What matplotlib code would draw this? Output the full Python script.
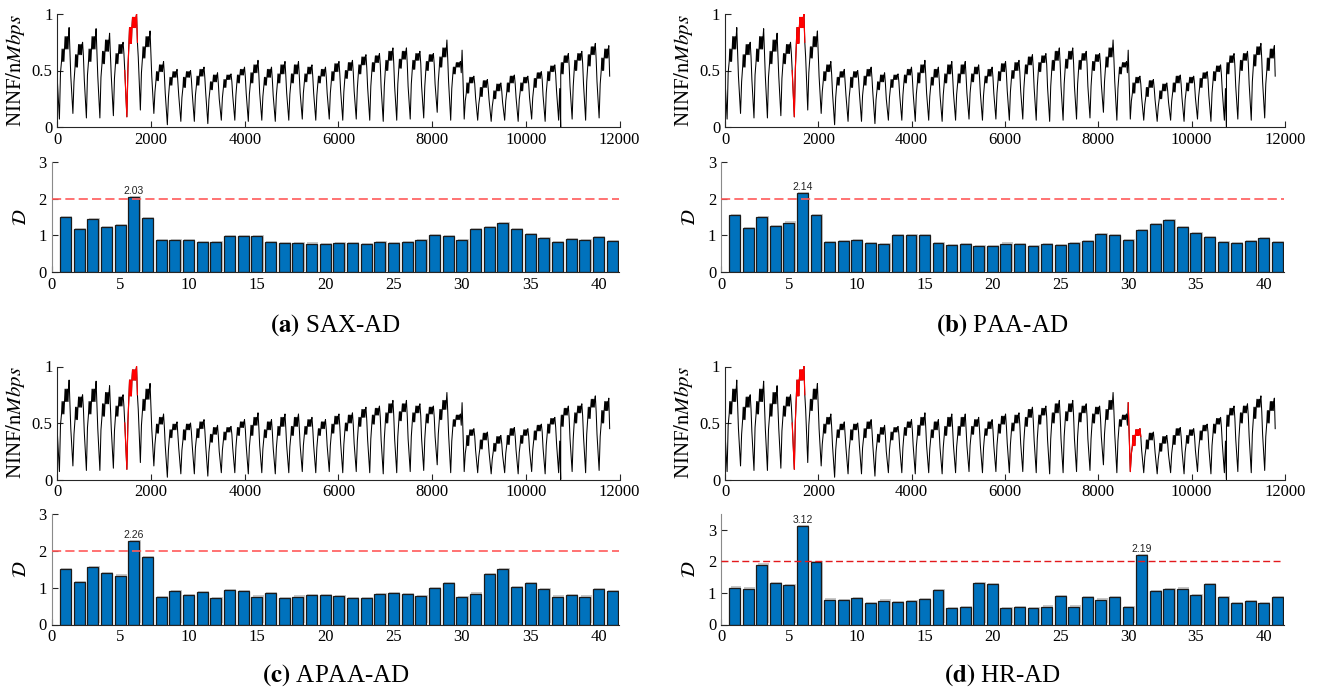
# -------------------- IMPORT LIBRARIES --------------------
import numpy as np
import matplotlib
matplotlib.use("Agg")
import matplotlib.pyplot as plt
from matplotlib import patheffects

plt.rcParams['font.family'] = ['Liberation Serif', 'DejaVu Serif']
plt.rcParams['mathtext.fontset'] = 'stix'

# -------------------- DATA --------------------
# traffic series, read per day (41 days, 288 samples per day)
samples_per_day = 288

day_start = [0.42, 0.45, 0.42, 0.45, 0.45, 0.50, 0.62, 0.45, 0.30, 0.28, 0.30,
             0.30, 0.25, 0.28, 0.30, 0.30, 0.28, 0.30, 0.30, 0.30, 0.30, 0.32,
             0.32, 0.35, 0.35, 0.36, 0.36, 0.36, 0.38, 0.40, 0.68, 0.26, 0.24,
             0.22, 0.26, 0.26, 0.28, 0.32, 0.36, 0.38, 0.40]
day_trough = [0.07, 0.12, 0.08, 0.08, 0.10, 0.09, 0.15, 0.12, 0.02, 0.05, 0.05,
              0.03, 0.06, 0.06, 0.05, 0.06, 0.05, 0.06, 0.07, 0.06, 0.07, 0.06,
              0.07, 0.06, 0.05, 0.06, 0.07, 0.08, 0.13, 0.06, 0.07, 0.06, 0.05,
              0.06, 0.05, 0.07, 0.05, 0.06, 0.07, 0.06, 0.08]
day_rise = [0.48, 0.40, 0.46, 0.44, 0.43, 0.52, 0.48, 0.31, 0.26, 0.26, 0.28,
            0.24, 0.26, 0.28, 0.29, 0.27, 0.28, 0.29, 0.30, 0.28, 0.30, 0.31,
            0.34, 0.36, 0.36, 0.38, 0.38, 0.36, 0.40, 0.34, 0.23, 0.20, 0.18,
            0.23, 0.24, 0.26, 0.30, 0.34, 0.36, 0.40, 0.38]
# daytime band: morning lower edge, middle edge, evening upper edge
band_low = [0.58, 0.53, 0.58, 0.56, 0.56, 0.74, 0.61, 0.41, 0.37, 0.35, 0.37,
            0.33, 0.35, 0.39, 0.39, 0.37, 0.39, 0.39, 0.40, 0.39, 0.41, 0.43,
            0.47, 0.49, 0.50, 0.52, 0.51, 0.50, 0.53, 0.47, 0.30, 0.27, 0.25,
            0.31, 0.32, 0.35, 0.41, 0.47, 0.50, 0.54, 0.50]
band_mid = [0.69, 0.64, 0.69, 0.67, 0.65, 0.88, 0.71, 0.49, 0.44, 0.44, 0.45,
            0.40, 0.42, 0.46, 0.48, 0.44, 0.47, 0.47, 0.47, 0.45, 0.49, 0.50,
            0.55, 0.57, 0.59, 0.60, 0.59, 0.58, 0.62, 0.53, 0.39, 0.35, 0.32,
            0.39, 0.39, 0.43, 0.49, 0.57, 0.59, 0.64, 0.61]
band_top = [0.80, 0.73, 0.80, 0.77, 0.73, 0.97, 0.80, 0.55, 0.49, 0.49, 0.51,
            0.46, 0.46, 0.51, 0.55, 0.51, 0.55, 0.55, 0.53, 0.51, 0.56, 0.57,
            0.62, 0.63, 0.67, 0.67, 0.65, 0.64, 0.70, 0.57, 0.44, 0.41, 0.38,
            0.45, 0.44, 0.48, 0.54, 0.63, 0.65, 0.71, 0.69]
day_peak = [0.88, 0.75, 0.87, 0.83, 0.75, 1.00, 0.85, 0.58, 0.51, 0.50, 0.53,
            0.48, 0.47, 0.53, 0.59, 0.53, 0.58, 0.58, 0.55, 0.53, 0.58, 0.59,
            0.64, 0.65, 0.70, 0.70, 0.67, 0.65, 0.77, 0.58, 0.45, 0.42, 0.39,
            0.46, 0.45, 0.49, 0.55, 0.65, 0.67, 0.74, 0.72]
day_late = [0.66, 0.62, 0.66, 0.64, 0.65, 0.75, 0.66, 0.46, 0.40, 0.42, 0.43,
            0.38, 0.40, 0.44, 0.46, 0.42, 0.45, 0.45, 0.44, 0.44, 0.47, 0.48,
            0.52, 0.55, 0.56, 0.56, 0.56, 0.55, 0.60, 0.48, 0.38, 0.34, 0.32,
            0.38, 0.38, 0.42, 0.46, 0.54, 0.56, 0.60, 0.45]
# single dropout sample
glitch_idx = [10745]
glitch_val = [0.0]

# anomaly score per day, one list per method
score_sax = [1.49, 1.17, 1.44, 1.22, 1.28, 2.03, 1.48, 0.88, 0.87, 0.885, 0.83,
             0.81, 0.98, 0.99, 0.98, 0.82, 0.795, 0.795, 0.78, 0.77, 0.80, 0.79,
             0.77, 0.81, 0.79, 0.83, 0.88, 1.00, 0.99, 0.885, 1.17, 1.23, 1.34,
             1.18, 1.03, 0.94, 0.81, 0.89, 0.88, 0.95, 0.85]
score_paa = [1.55, 1.20, 1.50, 1.25, 1.35, 2.14, 1.55, 0.83, 0.84, 0.87, 0.795,
             0.76, 1.00, 1.00, 1.00, 0.79, 0.74, 0.76, 0.72, 0.72, 0.78, 0.76,
             0.72, 0.76, 0.73, 0.80, 0.85, 1.03, 1.01, 0.88, 1.14, 1.30, 1.41,
             1.22, 1.07, 0.95, 0.81, 0.79, 0.85, 0.92, 0.81]
score_apaa = [1.51, 1.15, 1.55, 1.39, 1.33, 2.26, 1.84, 0.74, 0.92, 0.80, 0.87,
              0.73, 0.925, 0.91, 0.76, 0.85, 0.73, 0.76, 0.79, 0.81, 0.78, 0.73,
              0.73, 0.82, 0.86, 0.82, 0.77, 0.98, 1.12, 0.74, 0.84, 1.36, 1.50,
              1.02, 1.12, 0.97, 0.76, 0.80, 0.76, 0.96, 0.92]
score_hr = [1.17, 1.14, 1.90, 1.30, 1.24, 3.12, 1.98, 0.79, 0.77, 0.83, 0.69,
            0.76, 0.72, 0.73, 0.80, 1.08, 0.51, 0.55, 1.30, 1.27, 0.51, 0.56,
            0.51, 0.57, 0.90, 0.57, 0.88, 0.79, 0.87, 0.56, 2.19, 1.06, 1.11,
            1.14, 0.94, 1.29, 0.88, 0.67, 0.73, 0.67, 0.88]

methods = ["SAX-AD", "PAA-AD", "APAA-AD", "HR-AD"]
letters = ["a", "b", "c", "d"]
scores = [score_sax, score_paa, score_apaa, score_hr]
anomaly_days = [[6], [6], [6], [6, 31]]
threshold = 2

# -------------------- BUILD SERIES --------------------
# sample offset inside a day -> which read column is used there
day_layout = [(0, day_start), (45, day_trough), (68, day_rise),
              (90, band_low), (102, band_mid), (116, band_low), (128, band_mid),
              (141, band_low), (153, band_mid), (166, band_top), (178, band_mid),
              (191, band_top), (203, band_mid), (217, band_top), (229, band_mid),
              (240, band_top), (252, day_peak), (270, day_late)]
t, v = [], []
for d in range(len(day_start)):
    for ph, col in day_layout:
        t.append(d * samples_per_day + ph)
        v.append(col[d])
t = t + glitch_idx
v = v + glitch_val
order = np.argsort(t)
t = np.array(t)[order]
v = np.array(v)[order]
days = np.arange(1, len(score_sax) + 1)

# -------------------- FIGURE --------------------
W, H = 1322, 691
fig = plt.figure(figsize=(W / 100, H / 100), dpi=100)

def px_box(left, right, top, bottom):
    return [left / W, 1 - bottom / H, (right - left) / W, (bottom - top) / H]

cols_x = [(57.3, 619.5, 51.7, 619.0), (725.0, 1285.0, 721.0, 1284.0)]
rows_y = [(14, 127, 161.7, 272.3), (366.5, 479.5, 514.0, 624.5)]
cap_y = [332, 682]

for i in range(4):
    r, c = divmod(i, 2)
    tl, tr, bl, br = cols_x[c]
    tt, tb, bt, bb = rows_y[r]

    # ---- time series ----
    ax = fig.add_axes(px_box(tl, tr, tt, tb))
    ax.plot(t, v, color='black', linewidth=0.75)
    for d in anomaly_days[i]:
        lo = (d - 1) * samples_per_day
        hi = d * samples_per_day
        m = (t >= lo) & (t < hi)
        ax.plot(t[m], v[m], color='red', linewidth=0.85)
    ax.set_xlim(0, 12000)
    ax.set_ylim(0, 1)
    ax.set_xticks(np.arange(0, 12001, 2000))
    ax.set_yticks([0, 0.5, 1])
    ax.set_yticklabels(["0", "0.5", "1"])
    ax.set_ylabel(r'NINF$/\mathrm{n}Mbps$', fontsize=15, labelpad=3)

    # ---- anomaly score bars ----
    bx = fig.add_axes(px_box(bl, br, bt, bb))
    sc = scores[i]
    bars = bx.bar(days, sc, width=0.8, color='#0072BD', edgecolor='#1a1a1a',
                  linewidth=0.9, zorder=2)
    for b in bars:
        b.set_path_effects([patheffects.SimplePatchShadow(offset=(1.0, 0.8),
                                                          shadow_rgbFace='#c8c8c8',
                                                          alpha=1.0),
                            patheffects.Normal()])
    if i < 3:
        bx.axhline(threshold, color='#ff5a5a', linewidth=1.2,
                   dashes=(5.5, 2.5), zorder=3)
        bx.set_ylim(0, 3)
    else:
        bx.axhline(threshold, color='#e3191c', linewidth=1.0,
                   dashes=(5, 2.5), zorder=3)
        bx.set_ylim(0, 3.5)
    for d, s in zip(days, sc):
        if s > threshold:
            bx.text(d, s + 0.04, f"{s:.2f}", ha='center', va='bottom',
                    fontsize=7.5, family='Liberation Sans', color='#222222')
    bx.set_xlim(0, 41.5)
    bx.set_xticks(np.arange(0, 41, 5))
    bx.set_yticks([0, 1, 2, 3])
    bx.set_ylabel(r'$\mathcal{D}$', fontsize=14, labelpad=6)

    for a in (ax, bx):
        a.spines['top'].set_visible(False)
        a.spines['right'].set_visible(False)
        a.spines['bottom'].set_color('#262626')
        a.spines['left'].set_color('#262626')
        a.tick_params(direction='in', length=4, labelsize=12, colors='#262626',
                      labelcolor='black')
    bx.spines['left'].set_color('#8a8a8a')

    # ---- caption ----
    cx = (bl + br) / 2 / W
    fig.text(cx, 1 - cap_y[r] / H, rf'$\mathbf{{({letters[i]})}}$ {methods[i]}',
             ha='center', va='baseline', fontsize=18)

fig.savefig("out.png", dpi=100)
